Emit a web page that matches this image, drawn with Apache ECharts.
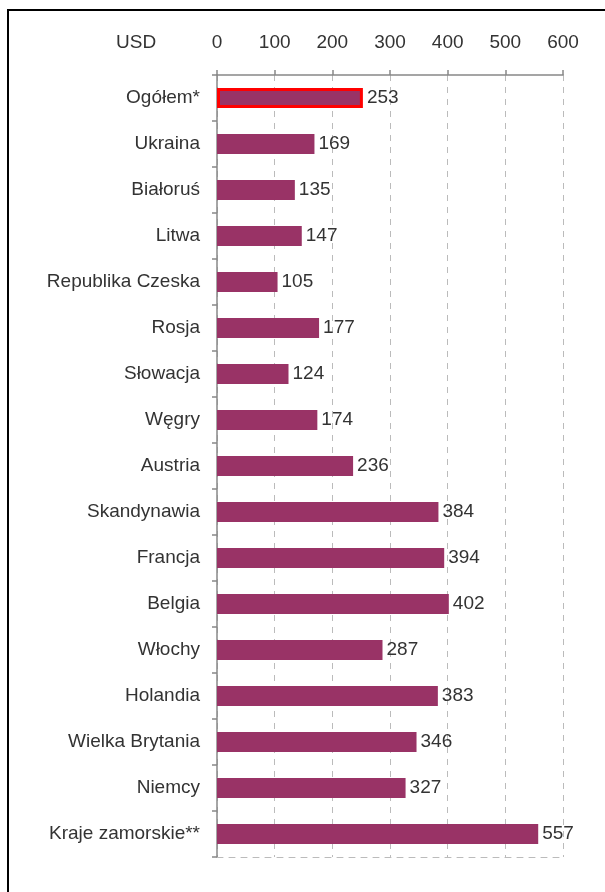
<!DOCTYPE html>
<html><head><meta charset="utf-8">
<script src="https://cdn.jsdelivr.net/npm/echarts@6/dist/echarts.min.js"></script>
<style>html,body{margin:0;padding:0;background:#fff}#c{width:605px;height:892px}</style>
</head><body><div id="c"></div>
<script>
const categories = ["Ogółem*","Ukraina","Białoruś","Litwa","Republika Czeska","Rosja","Słowacja","Węgry","Austria","Skandynawia","Francja","Belgia","Włochy","Holandia","Wielka Brytania","Niemcy","Kraje zamorskie**"];
const values = [253,169,135,147,105,177,124,174,236,384,394,402,287,383,346,327,557];
const xTicks = [0,100,200,300,400,500,600];
const unitLabel = "USD";

const chart = echarts.init(document.getElementById('c'));
const font = 'Liberation Sans, Arial, sans-serif';
const fs = 19;
chart.setOption({
  animation: false,
  grid: {left: 217, top: 75, right: 42, bottom: 35},
  graphic: [
    {type: 'rect', shape: {x: 8, y: 10, width: 620, height: 900}, style: {fill: 'none', stroke: '#000', lineWidth: 2}},
    {type: 'text', left: 116, top: 33, style: {text: unitLabel, fontSize: fs, fontFamily: font, fill: '#333'}}
  ],
  xAxis: [{
    type: 'value', position: 'top', min: xTicks[0], max: xTicks[xTicks.length-1], interval: 100,
    axisLine: {show: true, lineStyle: {color: '#888', width: 1.5}},
    axisTick: {show: true, length: 5, lineStyle: {color: '#888', width: 1.5}},
    axisLabel: {margin: 23, fontSize: fs, fontFamily: font, color: '#333'},
    splitLine: {show: true, lineStyle: {type: [6, 6], color: '#bbb', width: 1}}
  }, {
    type: 'value', position: 'bottom', min: 0, max: 600, interval: 100,
    axisLine: {show: true, lineStyle: {type: [6, 6], color: '#bbb'}},
    axisTick: {show: false}, axisLabel: {show: false}, splitLine: {show: false}
  }],
  yAxis: {
    type: 'category', data: categories, inverse: true,
    axisLine: {show: true, lineStyle: {color: '#888', width: 1.5}},
    axisTick: {show: true, length: 5, lineStyle: {color: '#888', width: 1.5}},
    axisLabel: {margin: 17, fontSize: fs, fontFamily: font, color: '#333'}
  },
  series: [{
    type: 'bar', xAxisIndex: 0,
    data: values.map((v, i) => i === 0 ? {value: v, itemStyle: {borderColor: '#ff0000', borderWidth: 3}} : v),
    barCategoryGap: '57%',
    itemStyle: {color: '#993366'},
    label: {show: true, position: 'right', distance: 4, fontSize: fs, fontFamily: font, color: '#333'}
  }]
});
</script></body></html>
